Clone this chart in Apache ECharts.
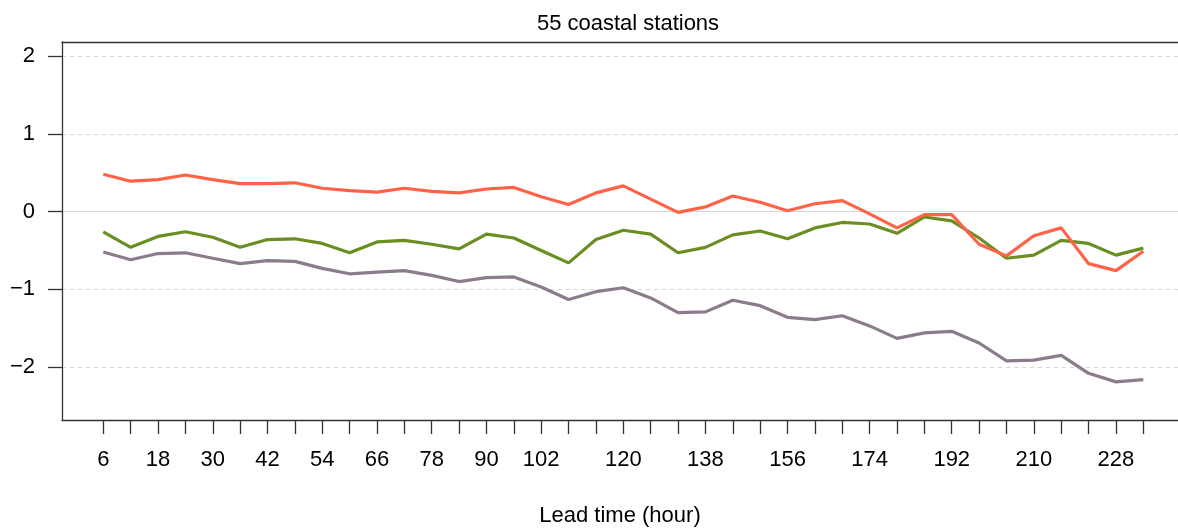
<!DOCTYPE html>
<html>
<head>
<meta charset="utf-8">
<title>55 coastal stations</title>
<script src="https://cdn.jsdelivr.net/npm/echarts@6/dist/echarts.min.js"></script>
<style>
  html, body { margin: 0; padding: 0; background: #fff; }
  #chart { width: 1178px; height: 531px; }
</style>
</head>
<body>
<div id="chart"></div>
<script>
// lead times (hours)
var hours = [6, 12, 18, 24, 30, 36, 42, 48, 54, 60, 66, 72, 78, 84, 90, 96, 102, 108, 114,
  120, 126, 132, 138, 144, 150, 156, 162, 168, 174, 180, 186, 192, 198, 204, 210, 216, 222, 228, 234];
// labels R kept on the x axis
var hourLabels = [6, 18, 30, 42, 54, 66, 78, 90, 102, 120, 138, 156, 174, 192, 210, 228];
var yTicks = [-2, -1, 0, 1, 2];

var redVals = [0.48, 0.39, 0.41, 0.47, 0.41, 0.36, 0.36, 0.37, 0.30, 0.27, 0.25, 0.30, 0.26, 0.24,
  0.29, 0.31, 0.19, 0.09, 0.24, 0.33, 0.16, -0.01, 0.06, 0.20, 0.12, 0.01, 0.10, 0.14,
  -0.03, -0.21, -0.04, -0.04, -0.42, -0.57, -0.31, -0.21, -0.67, -0.76, -0.51];
var greenVals = [-0.26, -0.46, -0.32, -0.26, -0.33, -0.46, -0.36, -0.35, -0.41, -0.53, -0.39, -0.37, -0.42, -0.48,
  -0.29, -0.34, -0.50, -0.66, -0.36, -0.24, -0.29, -0.53, -0.46, -0.30, -0.25, -0.35, -0.21, -0.14,
  -0.16, -0.28, -0.07, -0.12, -0.34, -0.60, -0.56, -0.37, -0.41, -0.56, -0.47];
var purpleVals = [-0.52, -0.62, -0.54, -0.53, -0.60, -0.67, -0.63, -0.64, -0.73, -0.80, -0.78, -0.76, -0.82, -0.90,
  -0.85, -0.84, -0.97, -1.13, -1.03, -0.98, -1.11, -1.30, -1.29, -1.14, -1.21, -1.36, -1.39, -1.34,
  -1.47, -1.63, -1.56, -1.54, -1.69, -1.92, -1.91, -1.85, -2.08, -2.19, -2.16];

function pairs(vals) {
  return hours.map(function (h, i) { return [h, vals[i]]; });
}

var font = "'Liberation Sans', Arial, sans-serif";
var axisCol = "#333";

var chart = echarts.init(document.getElementById("chart"));
chart.setOption({
  animation: false,
  title: {
    text: "55 coastal stations",
    left: 623,
    textAlign: "center",
    top: 8,
    textStyle: { fontFamily: font, fontSize: 22, fontWeight: "normal", color: "#000" }
  },
  grid: { left: 62, top: 42, right: 0, bottom: 111, outerBoundsMode: "none" },
  xAxis: [
    {
      type: "value",
      min: -3.05,
      max: 241.6,
      name: "Lead time (hour)",
      nameLocation: "middle",
      nameGap: 85,
      nameTextStyle: { fontFamily: font, fontSize: 22, color: "#000" },
      axisLine: { show: true, onZero: false, lineStyle: { color: axisCol, width: 1.3 } },
      axisTick: { show: true, length: 14, customValues: hours, lineStyle: { color: axisCol, width: 1.3 } },
      axisLabel: { customValues: hourLabels, margin: 29, fontFamily: font, fontSize: 22, color: "#000" },
      splitLine: { show: false }
    },
    {
      type: "value",
      position: "top",
      min: -3.05,
      max: 241.6,
      axisLine: { show: true, onZero: false, lineStyle: { color: axisCol, width: 1.3 } },
      axisTick: { show: false },
      axisLabel: { show: false },
      splitLine: { show: false }
    }
  ],
  yAxis: {
    type: "value",
    min: -2.68,
    max: 2.18,
    axisLine: { show: true, onZero: false, lineStyle: { color: axisCol, width: 1.3 } },
    axisTick: { show: true, length: 14, customValues: yTicks, lineStyle: { color: axisCol, width: 1.3 } },
    axisLabel: {
      customValues: yTicks,
      margin: 27,
      fontFamily: font,
      fontSize: 22,
      color: "#000",
      formatter: function (v) { return String(v).replace("-", "\u2212"); }
    },
    splitLine: { show: false }
  },
  series: [
    {
      name: "grid",
      type: "line",
      data: [],
      silent: true,
      z: 0,
      markLine: {
        silent: true,
        symbol: "none",
        z: 0,
        label: { show: false },
        data: yTicks.map(function (t) {
          return {
            yAxis: t,
            lineStyle: { color: "#d6d6d6", width: 1, type: t === 0 ? "solid" : [4, 4] }
          };
        })
      }
    },
    {
      type: "line",
      z: 3,
      data: pairs(purpleVals),
      showSymbol: false,
      lineStyle: { color: "#8B7B8B", width: 3.2 },
      itemStyle: { color: "#8B7B8B" }
    },
    {
      type: "line",
      z: 4,
      data: pairs(greenVals),
      showSymbol: false,
      lineStyle: { color: "#6B8E23", width: 3.2 },
      itemStyle: { color: "#6B8E23" }
    },
    {
      type: "line",
      z: 5,
      data: pairs(redVals),
      showSymbol: false,
      lineStyle: { color: "#FF6347", width: 3.2 },
      itemStyle: { color: "#FF6347" }
    }
  ]
});
</script>
</body>
</html>
